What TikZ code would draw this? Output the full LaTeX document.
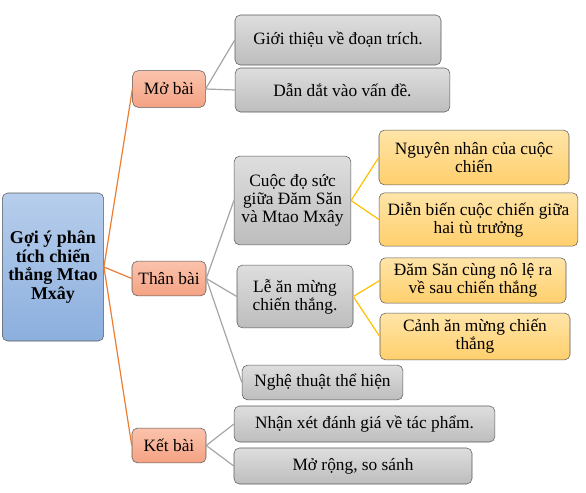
\documentclass[tikz,border=0pt]{standalone}
\usepackage{fontspec}
\setmainfont{LiberationSerif}[Extension=.ttf,UprightFont=*-Regular,BoldFont=*-Bold]
\definecolor{rootTop}{HTML}{B7CEEC}
\definecolor{rootBot}{HTML}{8CAFDE}
\definecolor{secTop}{HTML}{FBC3AC}
\definecolor{secBot}{HTML}{F4A283}
\definecolor{itemTop}{HTML}{DEDEDE}
\definecolor{itemBot}{HTML}{BDBDBD}
\definecolor{subTop}{HTML}{FFE5A8}
\definecolor{subBot}{HTML}{FFCF6C}
\definecolor{lineOrange}{HTML}{ED7D31}
\definecolor{lineGray}{HTML}{A5A5A5}
\definecolor{lineGold}{HTML}{FFC000}
\begin{document}
\begin{tikzpicture}[x=0.75pt,y=-0.75pt,
    box/.style={draw=black!65,rounded corners=4pt,align=center,inner sep=1pt,
        font=\fontsize{13}{13.5}\selectfont},
    rootbox/.style={box,top color=rootTop,bottom color=rootBot,font=\fontsize{13.5}{14}\selectfont\bfseries},
    secbox/.style={box,top color=secTop,bottom color=secBot},
    itembox/.style={box,top color=itemTop,bottom color=itemBot},
    subbox/.style={box,top color=subTop,bottom color=subBot},
    link/.style={line width=0.9pt}]
    \useasboundingbox (0,0) rectangle (586,493);

    % Root
    \node (goiy) at (53,267) [rootbox,minimum width=76pt,minimum height=111pt]
        {Gợi ý phân\\tích chiến\\thắng Mtao\\Mxây};

    % Sections
    \node (mobai) at (169,89) [secbox,minimum width=54.5pt,minimum height=27.5pt] {Mở bài};
    \node (thanbai) at (169,278.5) [secbox,minimum width=55.5pt,minimum height=26pt] {Thân bài};
    \node (ketbai) at (169,445.5) [secbox,minimum width=55.5pt,minimum height=26pt] {Kết bài};

    % Items
    \node (gioithieu) at (338,40) [itembox,minimum width=154.5pt,minimum height=37.5pt] {Giới thiệu về đoạn trích.};
    \node (dandat) at (342.5,90) [itembox,minimum width=161pt,minimum height=33pt] {Dẫn dắt vào vấn đề.};
    \node (cuocdo) at (292.5,200.5) [itembox,minimum width=87.5pt,minimum height=66.5pt]
        {Cuộc đọ sức\\giữa Đăm Săn\\và Mtao Mxây};
    \node (lean) at (295,296.5) [itembox,minimum width=87pt,minimum height=47pt]
        {Lễ ăn mừng\\chiến thắng.};
    \node (nghethuat) at (322.5,382.5) [itembox,minimum width=120.5pt,minimum height=26pt] {Nghệ thuật thể hiện};
    \node (nhanxet) at (364.5,424) [itembox,minimum width=195.5pt,minimum height=27pt] {Nhận xét đánh giá về tác phẩm.};
    \node (morong) at (353,466) [itembox,minimum width=178.5pt,minimum height=27pt] {Mở rộng, so sánh};

    % Sub-items
    \node (nguyennhan) at (474,157.5) [subbox,minimum width=142.5pt,minimum height=41pt]
        {Nguyên nhân của cuộc\\chiến};
    \node (dienbien) at (478.5,219.5) [subbox,minimum width=149pt,minimum height=40pt]
        {Diễn biến cuộc chiến giữa\\hai tù trưởng};
    \node (damsan) at (473,280.5) [subbox,minimum width=139.5pt,minimum height=34pt]
        {Đăm Săn cùng nô lệ ra\\về sau chiến thắng};
    \node (canhan) at (475,336.5) [subbox,minimum width=142.5pt,minimum height=35pt]
        {Cảnh ăn mừng chiến\\thắng};

    % Draw links
    \foreach \s in {mobai,thanbai,ketbai}
        \draw[link,lineOrange] (goiy.east) -- (\s.west);
    \foreach \s/\t in {mobai/gioithieu,mobai/dandat,thanbai/cuocdo,thanbai/lean,
                       thanbai/nghethuat,ketbai/nhanxet,ketbai/morong}
        \draw[link,lineGray] (\s.east) -- (\t.west);
    \foreach \s/\t in {cuocdo/nguyennhan,cuocdo/dienbien,lean/damsan,lean/canhan}
        \draw[link,lineGold] (\s.east) -- (\t.west);
\end{tikzpicture}
\end{document}
